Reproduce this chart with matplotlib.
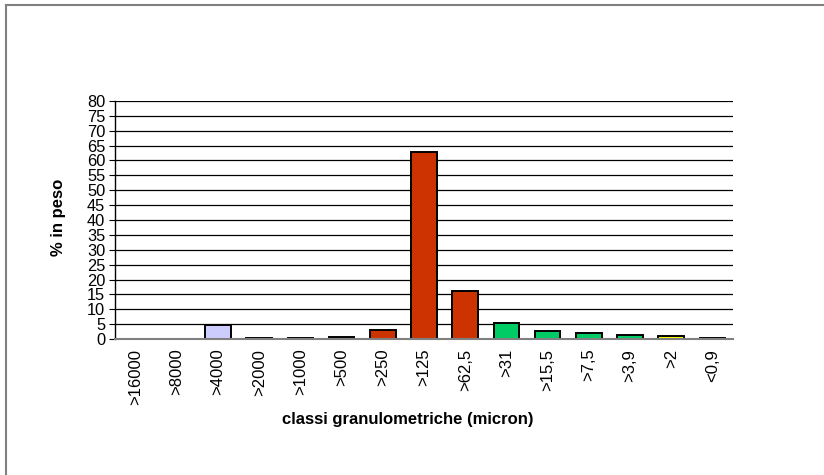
import matplotlib
matplotlib.use("Agg")
import matplotlib.pyplot as plt
from matplotlib.lines import Line2D

plt.rcParams['font.family'] = ['Liberation Sans', 'DejaVu Sans']

categories = [">16000", ">8000", ">4000", ">2000", ">1000", ">500", ">250",
              ">125", ">62,5", ">31", ">15,5", ">7,5", ">3,9", ">2", "<0,9"]
values = [0, 0, 4.8, 0.3, 0.4, 0.8, 3.0, 63.0, 16.3, 5.5, 2.7, 2.1, 1.5, 0.9, 0.4]
colors = ["#CCCCFF"] * 4 + ["#CC3300"] * 5 + ["#00CC66"] * 4 + ["#FFFF00"] * 2
yticks = list(range(0, 81, 5))

fig = plt.figure(figsize=(8.24, 4.75), dpi=100)
ax = fig.add_axes([0.1396, 0.2863, 0.75, 0.5011])

x = range(len(categories))
ax.set_axisbelow(True)
for t in yticks[1:]:
    ax.axhline(t, color="black", lw=0.9, zorder=0)
ax.bar(x, values, width=0.62, color=colors, edgecolor="black", linewidth=1.4, zorder=2)

ax.set_xlim(-0.5, len(categories) - 0.5)
ax.set_ylim(0, 80)
ax.set_yticks(yticks)
ax.set_yticklabels([str(t) for t in yticks], fontsize=11.8)
ax.set_xticks(list(x))
ax.set_xticklabels(categories, rotation=90, fontsize=12)
ax.tick_params(axis="x", length=0, pad=7)
ax.tick_params(axis="y", length=4, width=0.8, pad=3, direction="out")

for s in ["top", "right"]:
    ax.spines[s].set_visible(False)
ax.spines["left"].set_color("black")
ax.spines["left"].set_linewidth(1.0)
ax.spines["bottom"].set_color("#808080")
ax.spines["bottom"].set_linewidth(1.5)

ax.set_ylabel("% in peso", fontsize=12, fontweight="bold")
ax.set_xlabel("classi granulometriche (micron)", fontsize=12, fontweight="bold")
ax.yaxis.set_label_coords(-0.092, 0.51)
ax.yaxis.label.set_va("center")
ax.xaxis.set_label_coords(0.474, -0.340)
ax.xaxis.label.set_va("center")

# outer frame (top and left edges visible)
fig.add_artist(Line2D([6 / 824, 1.0], [1 - 5 / 475, 1 - 5 / 475], transform=fig.transFigure,
                      color="#808080", lw=1.5))
fig.add_artist(Line2D([6 / 824, 6 / 824], [0.0, 1 - 5 / 475], transform=fig.transFigure,
                      color="#808080", lw=1.5))

fig.savefig("out.png", dpi=100)
